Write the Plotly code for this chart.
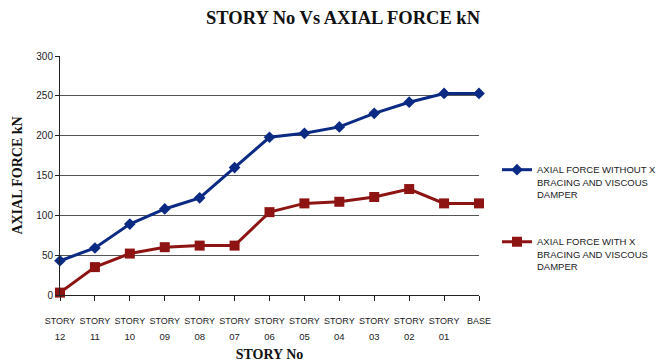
import plotly.graph_objects as go

categories = ["12", "11", "10", "09", "08", "07", "06", "05", "04", "03", "02", "01", "BASE"]
tick_top = ["STORY"] * 12 + ["BASE"]
tick_bottom = ["12", "11", "10", "09", "08", "07", "06", "05", "04", "03", "02", "01", ""]
without_bracing = [43, 59, 89, 108, 122, 160, 198, 203, 211, 228, 242, 253, 253]
with_bracing = [3, 35, 52, 60, 62, 62, 104, 115, 117, 123, 133, 115, 115]

name_without = "AXIAL FORCE WITHOUT X<br>BRACING AND VISCOUS<br>DAMPER"
name_with = "AXIAL FORCE WITH X<br>BRACING AND VISCOUS<br>DAMPER"

blue = "#0B2A84"
red = "#8E1414"

fig = go.Figure()
fig.add_trace(go.Scatter(
    x=categories, y=without_bracing, name=name_without, mode="lines+markers",
    line=dict(color=blue, width=3), marker=dict(symbol="diamond", size=9, color=blue),
    cliponaxis=False, legendgroup="a"))
fig.add_trace(go.Scatter(
    x=categories, y=with_bracing, name=name_with, mode="lines+markers",
    line=dict(color=red, width=3), marker=dict(symbol="square", size=10, color=red),
    cliponaxis=False, legendgroup="b"))
# invisible helper trace so the second (label) x axis is drawn
fig.add_trace(go.Scatter(x=categories, y=[None] * len(categories), xaxis="x2",
                         showlegend=False, hoverinfo="skip", mode="lines"))

serif = "Liberation Serif"
sans = "Liberation Sans"

fig.update_layout(
    width=656, height=362,
    margin=dict(l=60, r=177, t=56, b=67, autoexpand=False),
    paper_bgcolor="white", plot_bgcolor="white",
    title=dict(text="<b>STORY No Vs AXIAL FORCE kN</b>", x=343 / 656, xref="container",
               xanchor="center", y=1 - 18 / 362, yref="container", yanchor="middle",
               font=dict(family=serif, size=18.5, color="#111")),
    legend=dict(x=497 / 656, xref="container", xanchor="left", y=0.32, yanchor="middle",
                valign="top", tracegroupgap=32,
                font=dict(family=sans, size=9.5, color="#1a1a1a"),
                bgcolor="rgba(0,0,0,0)"),
    xaxis=dict(
        type="category", range=[0, 12], showgrid=False, showline=True,
        linecolor="#222", linewidth=1, ticks="outside", ticklen=5, tickcolor="#222",
        tickmode="array", tickvals=categories, ticktext=tick_top,
        tickfont=dict(family=sans, size=9, color="#222"), ticklabelstandoff=12,
        tickangle=0, fixedrange=True),
    xaxis2=dict(
        type="category", range=[0, 12], overlaying="x", side="bottom", anchor="y",
        showgrid=False, showline=False, ticks="", matches="x",
        tickmode="array", tickvals=categories, ticktext=tick_bottom,
        tickfont=dict(family=sans, size=9.5, color="#222"), ticklabelstandoff=34,
        tickangle=0,
        title=dict(text="<b>STORY No</b>", font=dict(family=serif, size=14, color="#111"),
                   standoff=10)),
    yaxis=dict(
        range=[0, 300], dtick=50, showgrid=True, gridcolor="#555", gridwidth=1,
        showline=True, linecolor="#222", linewidth=1, ticks="outside", ticklen=4,
        tickcolor="#222", zeroline=False,
        tickfont=dict(family=sans, size=10, color="#222"),
        title=dict(text="<b>AXIAL FORCE kN</b>", font=dict(family=serif, size=14, color="#111"),
                   standoff=10)),
)

fig.write_html("out.html")
